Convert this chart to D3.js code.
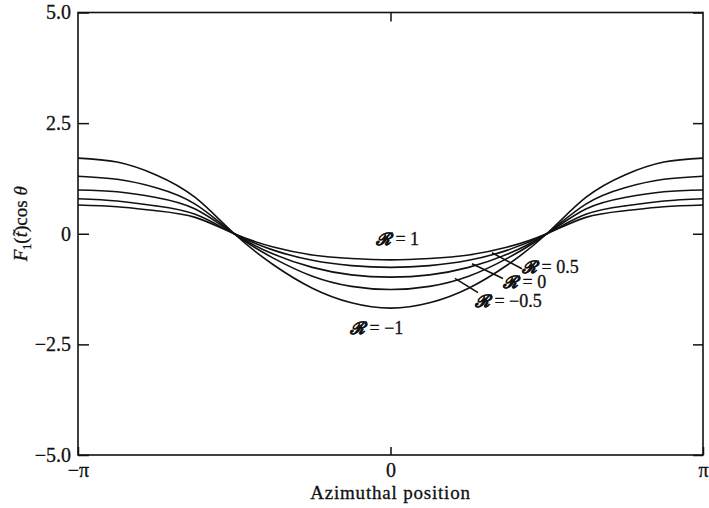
<!DOCTYPE html>
<html>
<head>
<meta charset="utf-8">
<script src="https://cdn.jsdelivr.net/npm/d3@7"></script>
<style>
  html, body { margin: 0; padding: 0; background: #fff; }
  svg { display: block; font-family: "Liberation Serif", "DejaVu Serif", serif; }
</style>
</head>
<body>
<div id="chart"></div>
<script>
// azimuthal sample points, -pi .. pi in steps of pi/8
const PI = Math.PI;
const thetaSteps = [-8, -7, -6, -5, -4, -3, -2, -1, 0, 1, 2, 3, 4, 5, 6, 7, 8];

// curves (one per value of R)
const rValues = ["1", "0.5", "0", "−0.5", "−1"];
const curveR1 =   [0.65, 0.61, 0.52, 0.37, 0, -0.30, -0.48, -0.56, -0.59, -0.56, -0.48, -0.30, 0, 0.37, 0.52, 0.61, 0.65];
const curveR05 =  [0.79, 0.74, 0.63, 0.44, 0, -0.37, -0.60, -0.72, -0.76, -0.72, -0.60, -0.37, 0, 0.44, 0.63, 0.74, 0.79];
const curveR0 =   [0.99, 0.95, 0.82, 0.56, 0, -0.46, -0.76, -0.93, -0.98, -0.93, -0.76, -0.46, 0, 0.56, 0.82, 0.95, 0.99];
const curveRm05 = [1.30, 1.23, 1.04, 0.67, 0, -0.55, -0.96, -1.19, -1.26, -1.19, -0.96, -0.55, 0, 0.67, 1.04, 1.23, 1.30];
const curveRm1 =  [1.71, 1.62, 1.33, 0.82, 0, -0.70, -1.23, -1.56, -1.68, -1.56, -1.23, -0.70, 0, 0.82, 1.33, 1.62, 1.71];
const allCurves = [curveR1, curveR05, curveR0, curveRm05, curveRm1];

// axis ticks
const yTicks = [-5, -2.5, 0, 2.5, 5];
const yTickLabels = ["−5.0", "−2.5", "0", "2.5", "5.0"];
const xTicks = [-PI, 0, PI];
const xTickLabels = ["−π", "0", "π"];

// curve annotations (label anchor in data units, leader line start/end)
const labelTheta = [0.07, 1.322, 1.131, 0.849, -0.407];
const labelValue = [-0.11, -0.75, -1.10, -1.52, -2.14];
const labelAnchor = ["middle", "start", "start", "start", "start"];
const leaderFrom = [null, [1.02, -0.43], [0.819, -0.68], [0.648, -1.01], null];
const leaderTo = [null, [1.322, -0.79], [1.131, -1.01], [0.88, -1.33], null];

const width = 709, height = 508;
const margin = { top: 12.5, right: 6, bottom: 53, left: 78 };

const svg = d3.select("#chart").append("svg")
    .attr("width", width)
    .attr("height", height);

const x = d3.scaleLinear().domain([-PI, PI]).range([margin.left, width - margin.right]);
const y = d3.scaleLinear().domain([-5, 5]).range([height - margin.bottom, margin.top]);

// frame
svg.append("rect")
    .attr("x", x(-PI)).attr("y", y(5))
    .attr("width", x(PI) - x(-PI)).attr("height", y(-5) - y(5))
    .attr("fill", "none").attr("stroke", "#111").attr("stroke-width", 1.6);

// axes with inward ticks
svg.append("g")
    .attr("transform", `translate(${x(-PI)},0)`)
    .call(d3.axisLeft(y).tickValues(yTicks).tickSize(-11).tickPadding(7)
        .tickFormat((d, i) => yTickLabels[i]));

svg.append("g")
    .attr("transform", `translate(${x(PI)},0)`)
    .call(d3.axisRight(y).tickValues(yTicks).tickSize(-10).tickFormat(""));

svg.append("g")
    .attr("transform", `translate(0,${y(-5)})`)
    .call(d3.axisBottom(x).tickValues(xTicks).tickSize(-8).tickPadding(8)
        .tickFormat((d, i) => xTickLabels[i]));

svg.append("g")
    .attr("transform", `translate(0,${y(5)})`)
    .call(d3.axisTop(x).tickValues([0]).tickSize(-9).tickFormat(""));

svg.selectAll(".domain").remove();
svg.selectAll(".tick line").attr("stroke", "#111").attr("stroke-width", 1.5);
svg.selectAll(".tick text")
    .attr("font-family", "Liberation Serif, serif")
    .attr("font-size", 20)
    .attr("fill", "#111")
    .attr("stroke", "#111")
    .attr("stroke-width", 0.3);

// curves
const line = d3.line()
    .x((d, i) => x(thetaSteps[i] * PI / 8))
    .y(d => y(d))
    .curve(d3.curveNatural);

svg.append("g")
    .selectAll("path")
    .data(allCurves)
    .join("path")
    .attr("d", d => line(d))
    .attr("fill", "none")
    .attr("stroke", "#111")
    .attr("stroke-width", 1.6);

// leader lines
svg.append("g")
    .selectAll("line")
    .data(rValues.map((r, i) => i).filter(i => leaderFrom[i]))
    .join("line")
    .attr("x1", i => x(leaderFrom[i][0]))
    .attr("y1", i => y(leaderFrom[i][1]))
    .attr("x2", i => x(leaderTo[i][0]))
    .attr("y2", i => y(leaderTo[i][1]))
    .attr("stroke", "#111")
    .attr("stroke-width", 1.6);

// R labels
const labels = svg.append("g")
    .selectAll("text")
    .data(rValues)
    .join("text")
    .attr("x", (d, i) => x(labelTheta[i]))
    .attr("y", (d, i) => y(labelValue[i]))
    .attr("dy", "0.33em")
    .attr("text-anchor", (d, i) => labelAnchor[i])
    .attr("font-family", "Liberation Serif, serif")
    .attr("font-size", 18)
    .attr("fill", "#111")
    .attr("stroke", "#111")
    .attr("stroke-width", 0.3);
labels.append("tspan")
    .attr("font-family", "DejaVu Serif, serif")
    .attr("font-style", "italic")
    .attr("font-weight", "bold")
    .attr("font-size", 17)
    .text("ℛ");
labels.append("tspan").text(d => " = " + d);

// axis titles
svg.append("text")
    .attr("x", x(0))
    .attr("y", height - 9)
    .attr("text-anchor", "middle")
    .attr("font-size", 19)
    .attr("letter-spacing", 0.8)
    .attr("fill", "#111")
    .attr("stroke", "#111")
    .attr("stroke-width", 0.3)
    .text("Azimuthal position");

const yTitle = svg.append("text")
    .attr("transform", `translate(27,${y(0) - 10}) rotate(-90)`)
    .attr("text-anchor", "middle")
    .attr("font-size", 19)
    .attr("fill", "#111")
    .attr("stroke", "#111")
    .attr("stroke-width", 0.3);
yTitle.append("tspan").attr("font-style", "italic").text("F");
yTitle.append("tspan").attr("font-size", 12).attr("dy", 4).text("1");
yTitle.append("tspan").attr("dy", -4).text("(");
yTitle.append("tspan").attr("font-style", "italic").text("t\u0303");
yTitle.append("tspan").text(")cos ");
yTitle.append("tspan").attr("font-style", "italic").text("θ");
</script>
</body>
</html>
